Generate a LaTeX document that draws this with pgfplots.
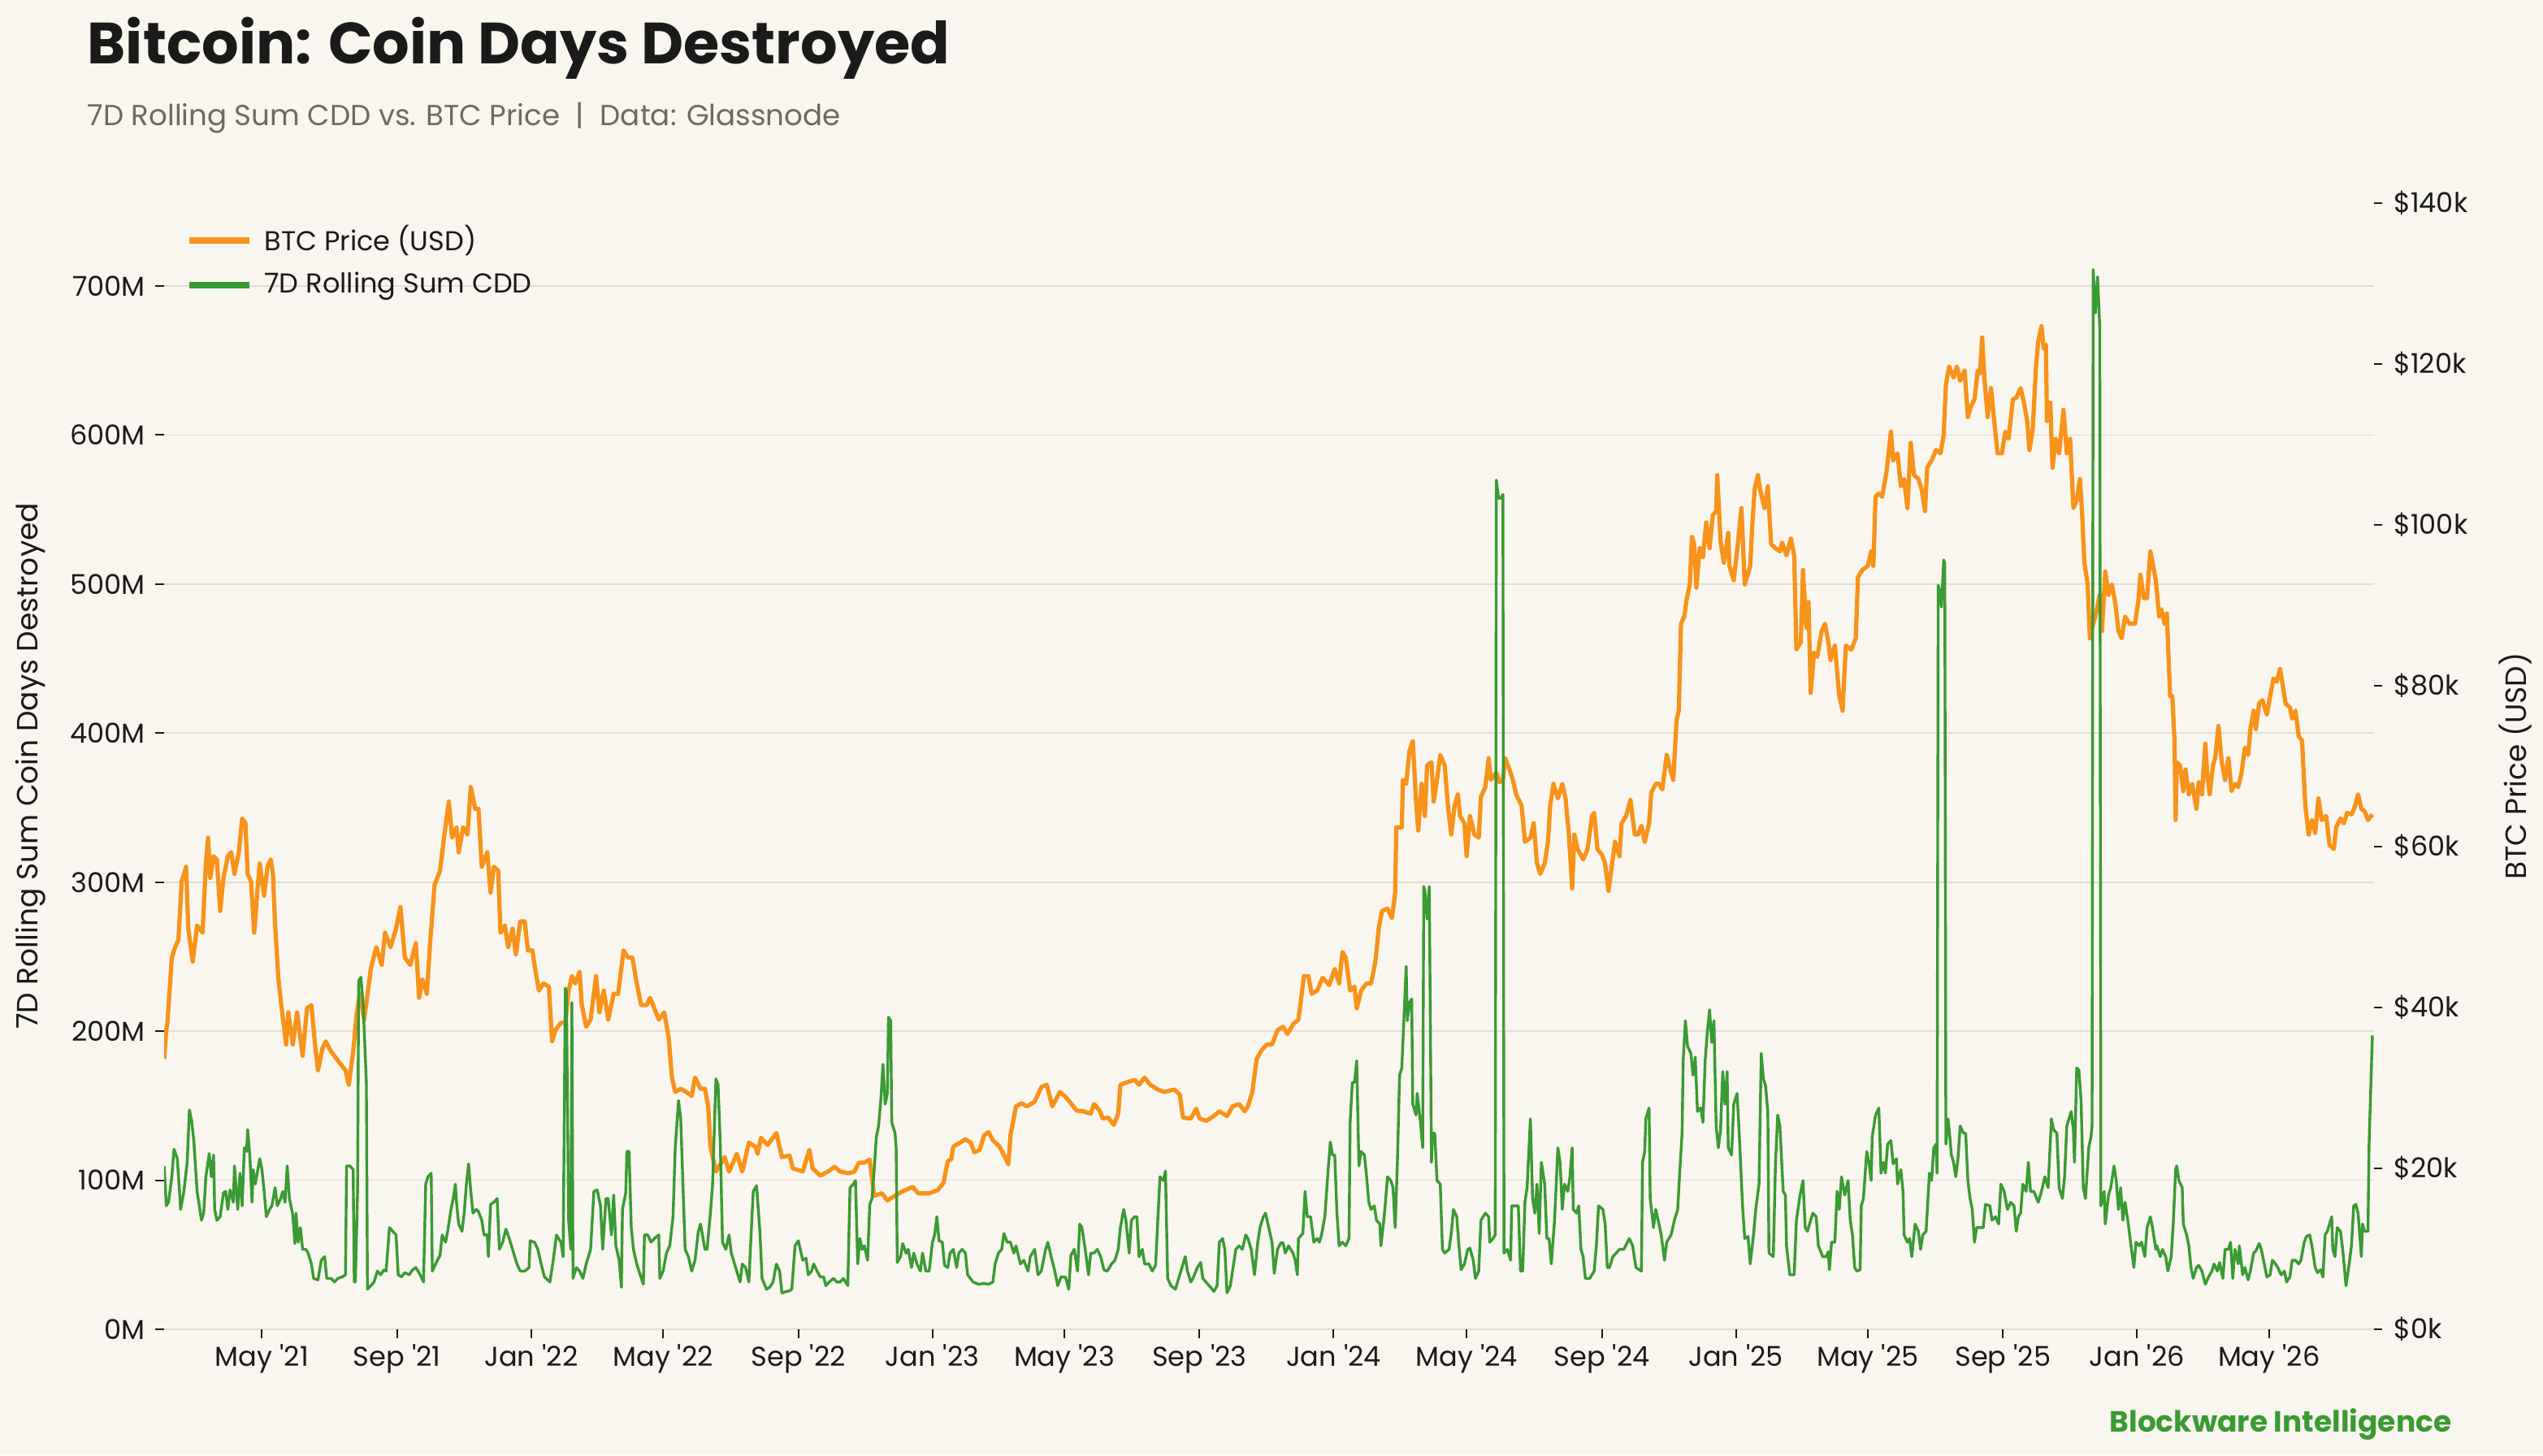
\documentclass[border=0pt]{standalone}
\usepackage{fontspec}
\setmainfont{Poppins}
\usepackage{pgfplots}
\pgfplotsset{compat=1.18}
\definecolor{bg}{HTML}{F9F5EF}
\definecolor{btc}{HTML}{F7931A}
\definecolor{cdd}{HTML}{3A9A33}
\definecolor{gridc}{HTML}{E2DED4}
\definecolor{subt}{HTML}{6E6A63}
\definecolor{txt}{HTML}{1A1A1A}
\pgfplotsset{
  base/.style={at={(50.5pt,38.75pt)}, anchor=south west, scale only axis,
    width=680pt, height=346.5pt, xmin=31, xmax=2041.5},
  ticklab/.style={tick label style={font=\fontsize{8.4}{10}\selectfont, text=txt}},
}
\begin{document}
\begin{tikzpicture}
\fill[bg] (0,0) rectangle (782.5pt,447.75pt);
\useasboundingbox (0,0) rectangle (782.5pt,447.75pt);
\node[anchor=base west, inner sep=0pt, font=\fontsize{17.9}{20}\selectfont\bfseries, text=txt] at (26.75pt,428pt) {Bitcoin: Coin Days Destroyed};
\node[anchor=base west, inner sep=0pt, font=\fontsize{8.9}{10}\selectfont, text=subt] at (26.75pt,409pt) {7D Rolling Sum CDD vs. BTC Price\hspace{0.55em}|\hspace{0.55em}Data: Glassnode};
\node[anchor=base east, inner sep=0pt, font=\fontsize{9}{10}\selectfont\bfseries, text=cdd] at (754.5pt,7.25pt) {Blockware Intelligence};

% grid + left axis + x axis
\begin{axis}[base, ticklab, ymin=0, ymax=755.6,
  axis line style={draw=none},
  xtick={120,243,365,485,608,730,850,973,1095,1216,1339,1461,1581,1704,1826,1946},
  xticklabels={May \textquotesingle21,Sep \textquotesingle21,Jan \textquotesingle22,May \textquotesingle22,Sep \textquotesingle22,Jan \textquotesingle23,May \textquotesingle23,Sep \textquotesingle23,Jan \textquotesingle24,May \textquotesingle24,Sep \textquotesingle24,Jan \textquotesingle25,May \textquotesingle25,Sep \textquotesingle25,Jan \textquotesingle26,May \textquotesingle26},
  xticklabel style={yshift=1.5pt},
  yticklabel style={xshift=0.5pt},
  ytick={0,100,200,300,400,500,600,700},
  yticklabels={0M,100M,200M,300M,400M,500M,600M,700M},
  xtick pos=left, ytick pos=left,
  tick align=outside, major tick length=2.75pt,
  tick style={txt, line width=0.5pt},
  ymajorgrids, grid style={gridc, line width=0.45pt},
  ylabel={7D Rolling Sum Coin Days Destroyed},
  ylabel style={font=\fontsize{9}{10}\selectfont, text=txt, at={(axis description cs:-0.0603,0.5)}, anchor=center},
]
\end{axis}

% price axis (right)
\begin{axis}[base, ticklab, ymin=0, ymax=140,
  axis x line=none, axis y line*=right, axis line style={draw=none},
  ytick={0,20,40,60,80,100,120,140},
  yticklabels={\$0k,\$20k,\$40k,\$60k,\$80k,\$100k,\$120k,\$140k},
  ytick pos=right, tick align=outside, major tick length=2.5pt,
  tick style={txt, line width=0.5pt},
  ylabel={BTC Price (USD)},
  ylabel style={font=\fontsize{9}{10}\selectfont, text=txt, at={(axis description cs:1.064,0.5)}, anchor=center},
  legend style={draw=none, fill=none, at={(axis description cs:0.0096,0.948)}, anchor=west,
    font=\fontsize{8.4}{10}\selectfont, text=txt, row sep=1pt, inner sep=0pt},
  legend cell align=left,
  legend image code/.code={\draw[#1, line width=2pt] (0pt,0pt) -- (18.5pt,0pt); \path (20.5pt,0pt);},
]
\addplot[btc, line width=1.3pt, line join=round] coordinates {
(31,33.6)(33,37.2)(34,38.1)(38,46.2)(41,47.5)(44,48.4)(47,55.7)(51,57.5)(53,49.8)(57,45.7)(61,50.2)(66,49.3)(69,57.9)(71,61.1)(73,56.1)(76,58.8)(79,58.4)(82,52.0)(85,56.1)(89,58.8)(92,59.3)(95,56.6)(99,59.3)(102,63.5)(105,62.9)(107,56.6)(110,55.7)(113,49.3)(116,54.8)(118,57.9)(122,53.9)(125,57.5)(128,58.4)(130,56.6)(132,50.2)(135,43.5)(138,39.9)(142,35.4)(144,39.4)(148,35.4)(152,39.4)(157,34.0)(161,39.9)(165,40.3)(168,35.8)(171,32.2)(175,34.9)(178,35.8)(183,34.5)(188,33.6)(193,32.7)(196,32.2)(199,30.4)(203,34.5)(206,39.0)(209,41.7)(213,38.5)(217,42.6)(219,44.8)(224,47.5)(229,45.3)(232,49.3)(237,47.5)(242,49.8)(246,52.5)(250,46.2)(255,45.3)(260,48.0)(263,41.2)(266,43.5)(270,41.7)(273,48.0)(277,55.2)(282,57.0)(286,61.5)(290,65.6)(293,61.1)(297,62.4)(299,59.3)(303,62.4)(307,61.5)(310,67.4)(314,64.7)(317,64.7)(320,57.5)(325,59.3)(328,54.3)(331,57.5)(335,57.0)(337,49.3)(341,50.2)(344,47.5)(348,49.8)(351,46.6)(355,50.7)(359,50.7)(362,47.1)(366,47.1)(369,44.4)(372,42.1)(376,43.0)(381,42.6)(384,35.8)(387,37.2)(392,38.1)(396,38.1)(399,42.1)(402,43.9)(405,43.0)(409,44.4)(411,40.3)(415,37.6)(419,38.5)(424,43.9)(427,39.4)(431,42.1)(435,38.5)(440,41.7)(444,41.7)(449,47.1)(453,46.2)(457,46.2)(461,43.0)(465,40.3)(470,40.3)(473,41.2)(477,39.9)(481,38.5)(486,39.4)(490,36.3)(493,31.3)(496,29.5)(501,29.9)(506,29.5)(511,29.0)(514,31.3)(519,29.9)(523,29.9)(526,27.7)(528,22.7)(533,19.6)(537,20.5)(541,21.4)
(545,19.6)(552,21.8)(557,19.6)(563,23.2)(569,22.7)(571,21.8)(574,23.8)(580,22.9)(588,24.4)(593,21.4)(600,21.6)(603,20.0)(612,19.6)(618,22.3)(621,20.0)(628,19.1)(635,19.6)(641,20.2)(646,19.6)(654,19.4)(659,19.6)(663,20.7)(668,20.7)(673,21.1)(675,18.7)(677,16.6)(684,16.9)(689,16.0)(696,16.6)(702,17.1)(712,17.7)(717,16.9)(727,16.9)(735,17.3)(740,18.2)(744,20.9)(747,21.1)(749,22.7)(755,23.2)(760,23.6)(765,23.2)(768,22.0)(773,22.3)(777,24.1)(781,24.5)(785,23.5)(791,22.7)(796,21.4)(799,20.5)(801,24.1)(806,27.7)(811,28.1)(816,27.7)(823,28.3)(829,30.1)(834,30.4)(839,27.7)(846,29.5)(851,28.9)(856,28.1)(861,27.2)(867,27.1)(874,26.8)(877,28.0)(882,27.2)(885,26.2)(890,26.3)(895,25.4)(899,26.8)(901,30.4)(907,30.7)(914,31.0)(918,30.4)(923,31.3)(928,30.4)(935,29.8)(941,29.5)(950,29.8)(955,29.2)(958,26.3)(965,26.2)(970,27.4)(973,26.2)(979,25.9)(986,26.5)(991,27.1)(998,26.5)(1003,27.7)(1009,28.0)(1014,27.1)(1017,27.7)(1021,29.5)(1025,33.6)(1029,34.6)(1034,35.4)(1039,35.4)
(1044,37.2)(1049,37.6)(1053,36.7)(1058,37.9)(1063,38.5)(1068,43.9)(1072,43.9)(1075,41.7)(1080,42.1)(1085,43.7)(1091,42.8)(1096,44.8)(1100,43.0)(1103,46.9)(1106,46.2)(1110,42.1)(1114,42.6)(1116,39.9)(1120,42.1)(1125,43.0)(1129,43.0)(1133,45.7)(1136,49.8)(1139,52.0)(1144,52.3)(1148,51.1)(1151,54.3)(1152,62.4)(1157,62.4)(1158,68.3)(1161,67.8)(1164,71.9)(1167,73.1)(1170,65.6)(1172,62.0)(1175,67.8)(1178,63.8)(1180,70.1)(1184,70.5)(1186,65.6)(1189,68.3)(1192,71.4)(1196,70.1)(1199,65.1)(1202,61.5)(1205,65.1)(1208,66.5)(1210,63.8)(1214,62.9)(1216,58.8)(1219,63.8)(1223,61.5)(1227,61.1)(1229,66.2)(1233,67.4)(1236,71.0)(1238,68.3)(1243,69.2)(1246,68.0)(1249,68.3)(1251,71.0)(1255,69.6)(1258,68.3)(1261,66.5)(1266,65.1)(1269,60.6)(1274,61.1)(1277,62.9)(1280,57.9)(1283,56.6)(1287,57.9)(1290,60.6)(1292,65.1)(1295,67.8)(1299,66.0)(1303,67.8)(1306,66.0)(1309,61.5)(1312,54.8)(1314,61.5)(1317,59.7)(1322,58.4)(1326,59.7)(1330,63.8)(1332,64.2)(1335,59.7)(1339,59.0)(1342,57.9)(1345,54.5)(1348,57.5)(1351,60.6)(1355,58.8)(1357,62.9)(1361,63.8)(1365,65.8)(1369,61.5)(1372,61.5)(1375,62.6)(1378,60.6)(1382,62.9)(1384,66.7)(1388,67.8)(1391,67.8)(1394,67.1)(1398,71.4)(1402,69.2)(1404,68.3)(1407,75.8)(1409,76.9)(1411,87.7)(1414,88.6)(1416,90.6)(1419,92.6)(1421,98.5)(1423,97.6)(1425,92.2)(1428,97.1)(1431,96.0)(1434,100.3)(1437,97.1)(1440,101.2)(1443,101.7)(1444,106.2)(1447,98.0)(1450,95.3)(1454,99.0)(1455,94.9)(1459,93.1)(1463,98.0)(1466,102.1)(1469,92.6)(1474,94.9)(1476,100.3)(1478,104.4)(1481,106.2)(1483,104.4)(1487,102.1)(1490,104.8)(1493,97.6)(1497,97.1)(1501,96.7)(1503,97.8)(1507,96.2)(1511,98.3)(1514,96.2)(1516,84.5)(1520,85.4)(1522,94.4)(1525,87.2)(1527,90.4)(1529,79.1)(1532,84.1)(1535,83.6)(1539,86.8)(1542,87.7)(1545,85.5)(1547,83.2)(1551,85.0)(1555,78.7)(1558,76.9)(1561,85.0)
(1566,84.5)(1570,85.9)(1572,93.5)(1576,94.4)(1581,94.9)(1584,96.7)(1586,94.9)(1588,103.5)(1591,103.9)(1594,103.5)(1598,106.6)(1602,111.6)(1604,108.0)(1608,108.9)(1611,104.8)(1614,105.7)(1617,102.1)(1620,110.2)(1623,106.2)(1627,105.7)(1630,104.4)(1633,101.7)(1635,107.1)(1639,108.0)(1643,109.3)(1647,108.9)(1650,111.1)(1652,117.4)(1655,119.7)(1659,118.3)(1662,119.7)(1665,117.9)(1669,119.2)(1672,113.4)(1675,114.8)(1678,115.6)(1681,119.2)(1683,118.8)(1685,123.3)(1687,118.3)(1690,113.4)(1693,117.0)(1696,112.9)(1699,108.9)(1703,108.9)(1706,111.6)(1709,110.7)(1713,115.6)(1716,115.8)(1720,117.0)(1723,115.2)(1726,112.9)(1728,109.3)(1731,111.9)(1734,119.7)(1736,122.8)(1739,124.7)(1741,121.9)(1743,122.4)(1744,112.9)(1747,115.2)(1749,107.1)(1752,110.7)(1755,108.9)(1759,114.3)(1762,108.9)(1765,110.7)(1768,102.1)(1771,103.0)(1774,105.7)(1776,101.2)(1778,95.3)(1781,92.6)(1783,85.9)(1786,87.7)(1788,88.6)(1792,91.3)(1794,86.8)(1797,94.2)(1800,91.3)(1803,92.6)(1806,90.4)(1809,86.8)(1812,85.9)(1815,88.6)(1819,87.7)(1824,87.7)(1827,90.4)(1829,93.8)(1832,90.9)(1835,90.9)(1838,96.7)(1840,95.3)(1843,93.1)(1846,88.6)(1848,89.5)(1851,87.7)(1853,89.0)(1856,78.7)(1858,78.7)(1860,73.2)(1861,63.3)(1862,70.5)(1865,70.1)(1868,66.9)(1870,69.6)(1873,66.5)(1876,67.8)(1880,64.7)(1882,68.0)(1885,66.5)(1888,72.8)(1890,68.7)(1892,66.5)(1895,70.1)(1897,71.0)(1900,75.0)(1903,70.5)(1906,68.3)(1909,71.0)(1912,66.9)(1915,67.8)(1918,67.4)(1921,69.2)(1924,72.3)(1927,71.4)(1929,74.6)(1932,76.9)(1934,74.6)(1937,77.8)(1940,78.2)(1944,76.4)(1947,78.7)(1950,80.9)(1953,80.5)(1956,82.1)(1959,79.6)(1961,77.8)(1965,77.3)(1967,75.9)(1970,76.9)(1973,73.7)(1976,73.2)(1979,65.1)(1982,61.5)(1985,63.3)(1988,61.7)(1991,66.0)(1994,63.3)(1998,63.8)(2001,60.2)(2005,59.7)(2007,62.4)(2011,63.5)(2014,62.9)(2017,64.2)(2021,64.0)(2024,64.9)(2027,66.5)(2030,64.7)(2033,64.4)(2036,63.3)(2040,64.0)
};
\addlegendentry{BTC Price (USD)}
\addlegendimage{cdd}
\addlegendentry{7D Rolling Sum CDD}
\end{axis}

% CDD series on top
\begin{axis}[base, ymin=0, ymax=755.6, hide axis]
\addplot[cdd, line width=0.85pt, line join=round] coordinates {
(31,109.6)(33,82.8)(35,85.2)(38,102.3)(40,120.8)(43,114.4)(45,92.5)(46,80.4)(49,92.5)(52,112.0)(54,147.1)(56,140.3)(58,126.6)(61,92.5)(63,82.8)(65,73.1)(67,77.9)(69,102.3)(72,117.9)(74,102.3)(76,116.9)(77,80.4)(79,73.1)(82,75.5)(85,91.6)(87,92.5)(89,80.4)(91,93.5)(94,85.2)(95,109.6)(98,80.4)(100,104.7)(102,82.8)(104,121.8)(106,119.3)(107,133.9)(109,115.9)(111,85.2)(112,107.1)(114,97.4)(118,114.4)(120,107.1)(122,92.5)(124,75.5)(127,80.4)(129,82.8)(132,95.0)(134,82.8)(137,87.7)(139,92.5)(141,85.2)(143,109.6)(145,87.7)(148,77.0)(150,57.5)(151,77.9)(153,58.4)(155,68.2)(157,53.6)(160,53.6)(162,51.1)(165,43.8)(167,34.1)(171,33.1)(174,46.3)(177,48.7)(179,34.1)(183,34.1)(186,31.7)(189,34.1)(193,35.1)(196,36.5)(197,109.6)(200,109.6)(203,107.1)(204,31.7)(205,31.7)(207,92.5)(208,233.8)(210,236.2)(212,219.2)(215,165.6)(216,26.8)(219,29.2)(222,31.7)(225,39.0)(228,36.5)(231,39.9)(233,39.0)(236,68.2)(239,65.7)(242,63.3)(244,36.5)(247,35.1)(250,38.0)(254,36.5)(257,39.9)(260,41.4)(264,36.5)(267,31.7)(269,97.4)(271,102.3)(274,104.7)(275,39.0)(278,43.8)(282,49.7)(284,63.3)(287,58.4)(289,65.7)(292,80.4)(294,87.7)(296,97.4)(297,85.2)(299,70.6)(302,65.7)(304,77.9)(306,97.4)(308,111.0)(310,92.5)(312,77.9)(315,80.4)(317,78.9)(320,73.1)(322,63.3)(325,63.3)(326,48.7)(328,83.8)(331,85.2)(334,87.7)(336,53.6)(339,58.4)(342,67.2)(345,60.9)(349,51.1)(352,43.8)(355,39.0)(359,39.0)(363,41.4)(364,59.4)(368,58.4)(371,53.6)(374,43.8)(377,35.1)(382,31.7)(385,46.3)(388,63.3)(392,58.4)(394,48.7)(396,228.9)(397,226.5)(399,73.1)(401,53.6)(402,219.2)(403,34.1)(406,41.4)(409,39.0)(412,34.1)(415,43.8)(419,53.6)(422,92.5)(425,93.5)(428,82.8)(430,53.6)(433,87.7)(435,87.7)(438,63.3)(440,90.1)(442,56.0)(445,46.3)(447,28.2)(448,80.4)(451,91.6)(452,119.3)(454,119.3)(456,68.2)(458,53.6)(461,43.8)(463,39.0)(467,30.2)(468,63.3)(471,63.3)(474,58.4)(477,60.9)(481,63.3)(482,34.1)(485,39.0)(488,51.1)(491,56.0)(494,75.5)(496,121.8)(499,153.4)(501,141.2)(503,97.4)(505,53.6)(508,48.7)(511,39.0)(514,46.3)(517,65.7)(519,70.6)(523,53.6)(525,53.6)(528,77.9)(530,97.4)(533,168.0)(535,164.0)(537,124.2)(539,58.4)
(542,53.6)(545,63.3)(547,51.1)(550,43.8)(553,36.5)(555,31.7)(557,43.8)(560,41.4)(563,31.7)(565,63.3)(567,92.5)(570,96.4)(573,65.7)(575,34.1)(579,26.8)(582,28.2)(585,31.7)(588,43.8)(591,39.0)(593,24.4)(597,25.3)(600,25.8)(602,26.8)(605,56.0)(608,59.4)(612,46.3)(615,47.7)(617,36.5)(620,39.0)(622,43.8)(625,39.0)(628,35.1)(631,35.1)(633,29.2)(636,31.7)(640,34.1)(643,31.7)(646,31.7)(649,34.1)(653,29.2)(654,63.3)(655,95.0)(658,97.4)(660,99.8)(662,43.8)(664,60.9)(666,53.6)(668,56.0)(671,46.3)(673,83.8)(675,87.7)(677,107.1)(679,129.1)(681,136.4)(683,153.4)(685,177.8)(687,151.0)(689,158.3)(690,209.4)(692,207.0)(693,138.8)(696,131.5)(697,121.8)(698,44.8)(701,48.7)(703,57.5)(706,51.1)(708,53.6)(711,41.4)(713,51.1)(716,43.8)(719,39.0)(721,51.1)(724,39.0)(727,39.0)(730,58.4)(732,63.3)(734,75.5)(736,59.4)(739,58.4)(741,42.9)(744,41.4)(746,51.1)(749,53.6)(752,41.4)(754,51.1)(757,53.6)(760,51.1)(762,36.5)(767,31.7)(772,30.2)(777,30.7)(781,30.2)(785,31.7)(787,43.8)(790,51.1)(793,53.6)(795,64.3)(798,58.4)(801,58.4)(804,51.1)(806,56.0)(810,43.8)(813,46.3)(817,39.0)(819,48.7)(823,53.6)(826,36.5)(829,39.0)(833,53.6)(835,58.4)(838,48.7)(841,39.9)(844,29.2)(847,35.1)(851,35.1)(854,26.8)(856,49.7)(859,53.6)(862,39.0)(864,70.6)(866,68.2)(869,53.6)(872,36.5)(874,51.1)(877,51.1)(880,53.6)(883,48.7)(886,39.9)(889,39.0)(893,43.8)(896,46.3)(899,53.6)(901,68.2)(904,80.4)(906,73.1)(909,51.1)(911,73.1)(914,75.5)(916,75.5)(918,48.7)(921,53.6)(923,43.8)(927,43.8)(930,39.0)(933,42.9)(937,102.3)(940,99.8)(942,106.2)(944,34.1)(947,29.2)(951,26.8)(954,34.1)(957,41.4)(960,48.7)(962,39.0)(965,31.7)(967,34.1)(971,41.4)(974,44.8)(976,34.1)(980,30.7)(983,28.2)(986,25.3)(989,29.2)(991,58.4)(994,60.9)(996,53.6)(998,24.4)(1001,29.2)(1004,43.8)(1006,53.6)(1009,56.0)(1012,53.6)(1015,63.3)(1017,60.9)(1020,53.6)(1023,36.5)(1026,58.4)(1028,68.2)(1031,75.5)(1033,77.9)(1036,68.2)(1039,58.0)(1041,37.5)(1044,53.6)(1047,58.0)(1049,58.0)
(1051,51.1)(1054,56.0)(1058,51.1)(1060,46.3)(1062,36.5)(1063,60.9)(1067,64.3)(1069,92.5)(1071,75.5)(1074,75.5)(1077,58.4)(1080,60.9)(1082,58.4)(1084,63.3)(1087,75.5)(1090,107.1)(1092,125.6)(1094,116.9)(1096,116.9)(1098,77.9)(1100,56.0)(1103,58.4)(1106,56.0)(1109,60.9)(1110,138.8)(1112,165.6)(1114,165.6)(1116,180.2)(1118,109.6)(1120,119.3)(1123,116.9)(1125,102.3)(1127,85.2)(1129,80.4)(1132,82.8)(1134,73.1)(1137,70.6)(1138,56.0)(1141,75.5)(1144,102.3)(1147,99.8)(1149,95.0)(1151,68.2)(1153,112.0)(1155,170.5)(1157,175.3)(1159,209.4)(1161,243.5)(1162,207.0)(1164,219.2)(1166,221.6)(1167,151.0)(1170,143.7)(1171,158.3)(1174,138.8)(1176,121.8)(1177,297.1)(1178,294.6)(1180,275.2)(1182,297.1)(1184,112.0)(1185,131.5)(1187,131.5)(1189,99.8)(1192,97.4)(1194,53.6)(1196,51.1)(1200,53.6)(1202,64.3)(1204,80.4)(1207,75.5)(1209,56.0)(1211,39.9)(1214,43.8)(1217,53.6)(1219,54.5)(1222,46.3)(1224,34.1)(1227,39.0)(1229,73.1)(1233,77.9)(1236,75.5)(1237,58.4)(1240,60.9)(1242,63.3)(1243,569.8)(1245,557.6)(1247,557.6)(1249,560.1)(1250,51.1)(1253,53.6)(1256,46.3)(1257,82.8)(1260,82.8)(1263,82.8)(1265,39.0)(1267,39.0)(1269,85.2)(1271,95.0)(1274,141.2)(1276,87.7)(1278,77.9)(1280,97.4)(1282,64.3)(1284,112.0)(1287,97.4)(1289,60.9)(1291,60.9)(1293,43.8)(1296,73.1)(1299,121.8)(1301,112.0)(1303,80.4)(1305,97.4)(1308,92.5)(1310,102.3)(1312,121.8)(1313,80.4)(1316,77.9)(1318,82.8)(1320,53.6)(1322,48.7)(1324,34.1)(1328,34.1)(1332,39.0)(1334,56.0)(1336,82.8)(1340,80.4)(1342,70.6)(1344,41.4)(1346,41.4)(1349,48.7)(1352,51.1)(1355,53.6)(1359,53.6)(1364,60.9)(1367,56.0)(1370,41.4)(1375,39.0)(1376,112.0)(1378,119.3)(1379,141.2)(1382,148.5)(1383,87.7)(1386,68.2)(1388,80.4)(1391,70.6)(1393,63.3)(1396,46.3)(1398,58.4)(1402,63.3)(1405,73.1)(1408,80.4)(1410,107.1)(1412,131.5)(1413,180.2)(1415,207.0)(1417,189.9)(1420,185.1)(1422,170.5)(1424,182.6)(1426,146.1)(1429,148.5)(1431,138.8)(1433,180.2)(1435,199.7)(1437,214.3)(1439,192.4)(1441,207.0)(1443,136.4)(1445,121.8)(1447,133.9)(1449,172.9)(1451,151.0)(1453,172.9)(1454,121.8)(1457,116.9)(1459,151.0)(1462,158.3)(1464,131.5)(1467,82.8)(1469,60.9)(1472,62.3)(1474,43.8)(1477,63.3)(1479,80.4)(1482,97.4)(1484,185.1)(1486,168.0)(1488,163.1)(1490,146.1)(1491,51.1)(1495,48.7)(1497,112.0)(1499,143.7)(1501,136.4)(1504,92.5)(1506,90.1)(1507,56.0)(1510,36.5)(1514,36.5)(1516,73.1)(1519,88.6)(1522,99.8)(1524,68.2)(1526,65.7)(1529,73.1)(1531,77.9)(1534,75.5)(1536,56.0)(1540,48.7)(1543,48.7)(1545,52.0)(1546,39.9)(1548,58.4)(1551,58.4)
(1553,92.5)(1555,80.4)(1557,102.3)(1560,90.1)(1563,99.8)(1565,73.1)(1567,63.3)(1569,41.4)(1571,39.0)(1574,39.9)(1575,82.8)(1577,87.7)(1580,119.3)(1582,112.0)(1584,99.8)(1585,129.1)(1588,143.7)(1591,148.5)(1593,104.7)(1595,112.0)(1597,104.7)(1599,124.2)(1602,126.6)(1604,111.0)(1607,114.4)(1608,97.4)(1611,107.1)(1613,92.5)(1614,63.3)(1617,58.4)(1619,60.9)(1621,48.7)(1624,70.6)(1627,65.7)(1629,53.6)(1631,63.3)(1634,65.7)(1637,104.7)(1639,99.8)(1641,121.8)(1643,124.2)(1644,104.7)(1645,499.2)(1646,496.7)(1648,484.6)(1650,516.2)(1651,513.8)(1652,124.2)(1654,141.2)(1655,133.9)(1657,116.9)(1659,112.0)(1661,102.3)(1663,114.4)(1665,136.4)(1668,131.5)(1670,131.5)(1672,99.8)(1674,87.7)(1676,80.4)(1678,58.4)(1680,68.2)(1683,68.2)(1686,68.2)(1688,83.8)(1692,82.8)(1694,73.1)(1697,75.5)(1700,70.6)(1702,97.4)(1705,92.5)(1708,80.4)(1711,85.2)(1714,82.8)(1716,65.7)(1718,75.5)(1720,77.9)(1722,97.4)(1725,92.5)(1727,112.0)(1729,92.5)(1732,92.5)(1736,85.2)(1739,92.5)(1742,102.3)(1745,95.0)(1748,141.2)(1750,133.9)(1753,131.5)(1755,95.0)(1758,87.7)(1760,102.3)(1762,136.4)(1764,141.2)(1766,146.1)(1768,133.9)(1769,112.0)(1771,175.3)(1773,173.9)(1775,153.4)(1777,95.0)(1779,87.7)(1782,121.8)(1784,129.1)(1785,136.4)(1786,711.0)(1788,681.8)(1790,706.2)(1792,672.1)(1793,82.8)(1796,92.5)(1797,70.6)(1800,90.1)(1802,95.0)(1805,109.6)(1807,99.8)(1809,80.4)(1811,95.0)(1813,73.1)(1815,85.2)(1818,70.6)(1820,58.4)(1823,41.4)(1825,58.4)(1828,56.0)(1830,58.4)(1833,48.7)(1835,68.2)(1838,75.5)(1840,68.2)(1843,53.6)(1844,56.0)(1847,48.7)(1849,53.6)(1852,48.7)(1854,39.0)(1857,48.7)(1859,73.1)(1861,107.1)(1862,109.6)(1864,99.8)(1867,95.0)(1868,70.6)(1871,63.3)(1873,56.0)(1875,41.4)(1877,34.1)(1880,41.4)(1882,42.9)(1885,39.0)(1888,30.2)(1891,35.1)(1894,39.0)(1896,43.8)(1899,39.0)(1901,44.8)(1904,34.1)(1906,53.6)(1909,53.6)(1911,58.4)(1913,34.1)(1915,53.6)(1918,43.8)(1919,56.0)(1922,36.5)(1924,41.4)(1927,33.1)(1929,39.0)(1932,51.1)(1934,52.6)(1937,57.5)(1939,53.6)(1941,46.3)(1944,35.1)(1947,36.5)(1949,46.3)(1951,44.8)(1954,41.4)(1957,36.5)(1960,39.0)(1962,31.7)(1965,35.1)(1967,46.3)(1970,46.3)(1973,43.8)(1975,46.3)(1978,58.4)(1980,62.3)(1983,63.3)(1985,56.0)(1988,41.4)(1990,38.0)(1993,39.9)(1995,35.1)(1997,63.3)(1999,65.7)(2003,75.5)(2004,53.6)(2006,48.7)(2008,68.2)(2011,65.7)(2013,53.6)(2016,29.2)(2018,39.0)(2021,56.0)(2023,82.8)(2025,83.8)(2027,77.9)(2030,48.7)(2031,70.6)(2033,65.7)(2036,65.7)(2037,124.2)(2040,197.2)
};
\end{axis}
\end{tikzpicture}
\end{document}
